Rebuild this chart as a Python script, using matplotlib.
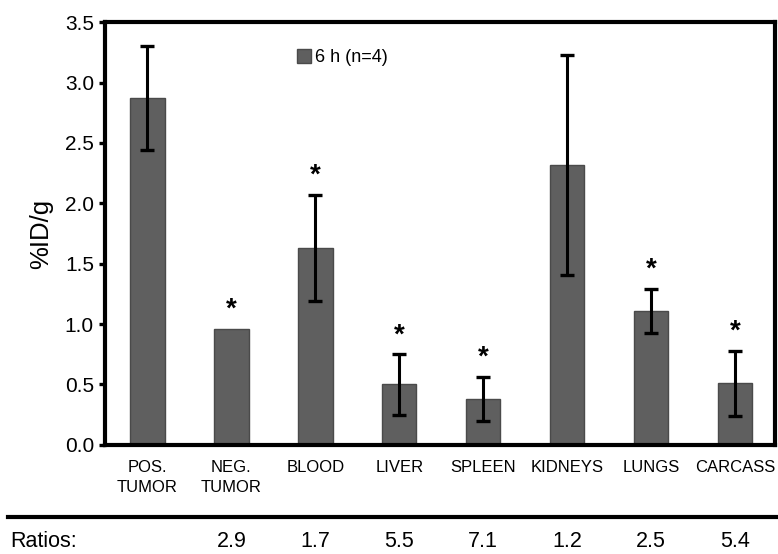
import matplotlib
matplotlib.use("Agg")
import matplotlib.pyplot as plt
import matplotlib.transforms as mtransforms
from matplotlib.lines import Line2D
from matplotlib.patches import Patch
import numpy as np

plt.rcParams["font.family"] = ["Liberation Sans", "DejaVu Sans"]

ORGANS = ["POS.\nTUMOR", "NEG.\nTUMOR", "BLOOD", "LIVER", "SPLEEN", "KIDNEYS", "LUNGS", "CARCASS"]
UPTAKE = [2.87, 0.96, 1.63, 0.50, 0.38, 2.32, 1.11, 0.51]
ERRORS = [0.43, 0.0, 0.44, 0.25, 0.185, 0.91, 0.18, 0.27]
SIGNIFICANT = [False, True, True, True, True, False, True, True]
RATIOS = ["", "2.9", "1.7", "5.5", "7.1", "1.2", "2.5", "5.4"]

BAR_COLOR = "#5f5f5f"
EDGE_COLOR = "#4a4a4a"


def main():
    fig = plt.figure(figsize=(7.78, 5.54), dpi=100)
    ax = fig.add_axes([0.135, 0.197, 0.861, 0.763])

    x = np.arange(len(ORGANS))
    yerr = [e if e > 0 else np.nan for e in ERRORS]
    ax.bar(x, UPTAKE, width=0.41, color=BAR_COLOR, edgecolor=EDGE_COLOR,
           linewidth=1.0, zorder=2, label="6 h (n=4)")
    ax.errorbar(x, UPTAKE, yerr=yerr, fmt="none", ecolor="black",
                elinewidth=2.2, capsize=5, capthick=2.4, zorder=3)

    for xi, val, err, sig in zip(x, UPTAKE, ERRORS, SIGNIFICANT):
        if sig:
            ax.text(xi, val + err + 0.05, "*", ha="center", va="bottom",
                    fontsize=20, fontweight="bold", color="black")

    ax.set_xlim(-0.506, 7.476)
    ax.set_ylim(0, 3.5)
    ax.set_yticks(np.arange(0, 3.51, 0.5))
    ax.set_yticklabels([f"{v:.1f}" for v in np.arange(0, 3.51, 0.5)])
    ax.set_xticks(x)
    ax.set_xticklabels(ORGANS, fontsize=12, linespacing=1.4)
    ax.tick_params(axis="x", length=0, pad=11)
    ax.tick_params(axis="y", labelsize=15, length=4, width=2.4, direction="out", pad=4)
    for spine in ax.spines.values():
        spine.set_linewidth(3.0)
    ax.set_ylabel("%ID/g", fontsize=18.5, labelpad=8)

    handle = Patch(facecolor=BAR_COLOR, edgecolor=EDGE_COLOR, linewidth=1.0)
    ax.legend([handle], ["6 h (n=4)"], loc="upper left",
              bbox_to_anchor=(0.262, 0.975), frameon=False, fontsize=13,
              handlelength=0.8, handleheight=0.8, handletextpad=0.2)

    # ratio row under the plot
    fig.add_artist(Line2D([0.01, 1.0], [0.067, 0.067], transform=fig.transFigure,
                          color="black", linewidth=3.0))
    fig.text(0.013, 0.022, "Ratios:", ha="left", va="center", fontsize=15.5)
    trans = mtransforms.blended_transform_factory(ax.transData, fig.transFigure)
    for xi, r in zip(x, RATIOS):
        if r:
            fig.text(xi, 0.022, r, ha="center", va="center", fontsize=15.5,
                     transform=trans)

    fig.savefig("out.png", dpi=100)


if __name__ == "__main__":
    main()
